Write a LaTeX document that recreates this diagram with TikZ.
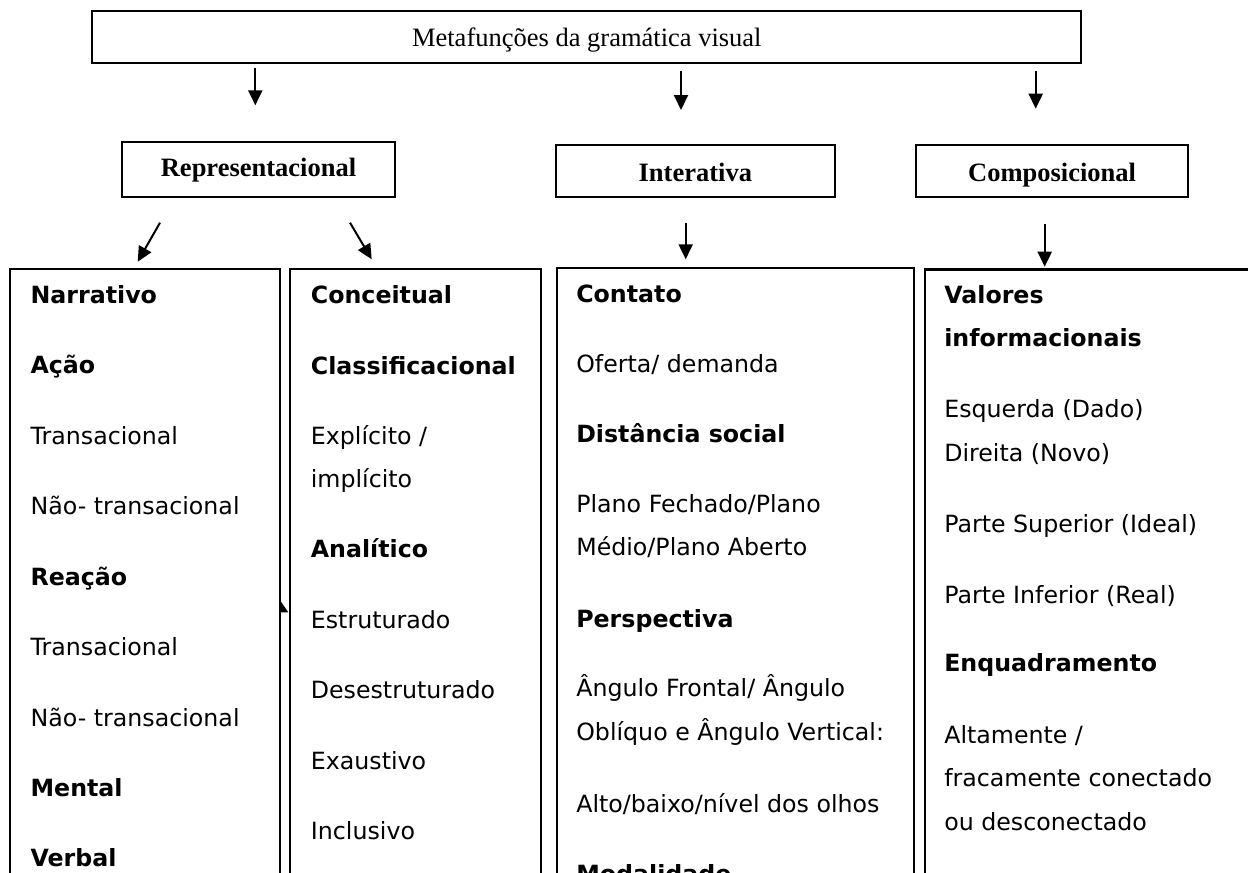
\documentclass[tikz,border=0pt]{standalone}
\usepackage{fontspec}
\newfontfamily\vsans{DejaVu Sans}
\newfontfamily\tms{Liberation Serif}
\usetikzlibrary{arrows.meta}
\begin{document}
\begin{tikzpicture}[x=1pt,y=-1pt,
  hbox/.style={draw, line width=2pt, inner sep=0pt, text depth=0pt},
  htxt/.style={font=\tms\fontsize{26.5}{30}\selectfont},
  htxtb/.style={font=\tms\bfseries\fontsize{26.5}{30}\selectfont},
  colbox/.style={draw, line width=2pt, inner sep=0pt, anchor=north west},
  arr/.style={line width=2pt, -{Triangle[length=15pt,width=14pt]}},
  rt/.style={anchor=base west, inner sep=0pt, font=\vsans\fontsize{23.7}{28}\selectfont},
  bt/.style={anchor=base west, inner sep=0pt, font=\vsans\bfseries\fontsize{23.7}{28}\selectfont}]
\clip (0,0) rectangle (1248,873);
\fill[white] (0,0) rectangle (1248,873);

% header boxes
\node[hbox, htxt, minimum width=989pt, minimum height=52pt, text height=18.6pt] (top) at (586.8,36.7) {Metafunções da gramática visual};
\node[hbox, htxtb, minimum width=272.4pt, minimum height=55pt, text height=15pt] (rep) at (258.5,169.2) {Representacional};
\node[hbox, htxtb, minimum width=278.7pt, minimum height=51.7pt, text height=20.3pt] (int) at (695.35,170.85) {Interativa};
\node[hbox, htxtb, minimum width=271.7pt, minimum height=52.3pt, text height=21pt] (comp) at (1052.15,171.15) {Composicional};

% column boxes
\node[colbox, minimum width=270.1pt, minimum height=640pt] (c1) at (8.9,268.3) {};
\node[colbox, minimum width=251.5pt, minimum height=640pt] (c2) at (288.5,268.3) {};
\node[colbox, minimum width=357pt, minimum height=640pt] (c3) at (556,266.7) {};
\node[colbox, line width=2.4pt, minimum width=346pt, minimum height=640pt] (c4) at (924,268.3) {};

% arrow end points
\coordinate (a1s) at (255.3,68);    \coordinate (a1e) at (255.3,105.3);
\coordinate (a2s) at (681,70.7);    \coordinate (a2e) at (681,110);
\coordinate (a3s) at (1035.7,70.7); \coordinate (a3e) at (1035.7,108.7);
\coordinate (a4s) at (160,222.7);   \coordinate (a4e) at (137.7,261.7);
\coordinate (a5s) at (350,222.7);   \coordinate (a5e) at (371.7,259.3);
\coordinate (a6s) at (685.7,222.7); \coordinate (a6e) at (685.7,259.3);
\coordinate (a7s) at (1044.7,224);  \coordinate (a7e) at (1044.7,266.7);
\draw[arr] (a1s) -- (a1e);
\draw[arr] (a2s) -- (a2e);
\draw[arr] (a3s) -- (a3e);
\draw[arr] (a4s) -- (a4e);
\draw[arr] (a5s) -- (a5e);
\draw[arr] (a6s) -- (a6e);
\draw[arr] (a7s) -- (a7e);

% small stray arrowhead on the first column
\fill (279.3,599.3) -- (288.3,612.3) -- (279.3,612.3) -- cycle;

% column 1
\node[bt] (t11) at (30.4,303.8) {Narrativo};
\node[bt] (t12) at (30.4,373.4) {Ação};
\node[rt] (t13) at (30.4,444.5) {Transacional};
\node[rt] (t14) at (30.4,514.9) {Não- transacional};
\node[bt] (t15) at (30.4,585.3) {Reação};
\node[rt] (t16) at (30.4,655.6) {Transacional};
\node[rt] (t17) at (30.4,726) {Não- transacional};
\node[bt] (t18) at (30.4,796.4) {Mental};
\node[bt] (t19) at (30.4,866) {Verbal};

% column 2
\node[bt] (t21) at (310.7,303.8) {Conceitual};
\node[bt] (t22) at (310.7,374.2) {Classificacional};
\node[rt] (t23) at (310.7,444.5) {Explícito /};
\node[rt] (t24) at (310.7,487.5) {implícito};
\node[bt] (t25) at (310.7,557.9) {Analítico};
\node[rt] (t26) at (310.7,628.3) {Estruturado};
\node[rt] (t27) at (310.7,698.6) {Desestruturado};
\node[rt] (t28) at (310.7,769) {Exaustivo};
\node[rt] (t29) at (310.7,839.4) {Inclusivo};

% column 3
\node[bt] (t31) at (576.1,302) {Contato};
\node[rt] (t32) at (576.1,372.6) {Oferta/ demanda};
\node[bt] (t33) at (576.1,442.2) {Distância social};
\node[rt] (t34) at (576.1,512.1) {Plano Fechado/Plano};
\node[rt] (t35) at (576.1,555.9) {Médio/Plano Aberto};
\node[bt] (t36) at (576.1,627.5) {Perspectiva};
\node[rt] (t37) at (576.1,696.7) {Ângulo Frontal/ Ângulo};
\node[rt] (t38) at (576.1,740.8) {Oblíquo e Ângulo Vertical:};
\node[rt] (t39) at (576.1,812.4) {Alto/baixo/nível dos olhos};
\node[bt] (t3a) at (576.1,882.5) {Modalidade};

% column 4
\node[bt] (t41) at (944.1,303) {Valores};
\node[bt] (t42) at (944.1,346.8) {informacionais};
\node[rt] (t43) at (944.1,417.5) {Esquerda (Dado)};
\node[rt] (t44) at (944.1,461.3) {Direita (Novo)};
\node[rt] (t45) at (944.1,532.5) {Parte Superior (Ideal)};
\node[rt] (t46) at (944.1,603.2) {Parte Inferior (Real)};
\node[bt] (t47) at (944.1,671.7) {Enquadramento};
\node[rt] (t48) at (944.1,743.6) {Altamente /};
\node[rt] (t49) at (944.1,786.6) {fracamente conectado};
\node[rt] (t4a) at (944.1,830) {ou desconectado};
\end{tikzpicture}
\end{document}
